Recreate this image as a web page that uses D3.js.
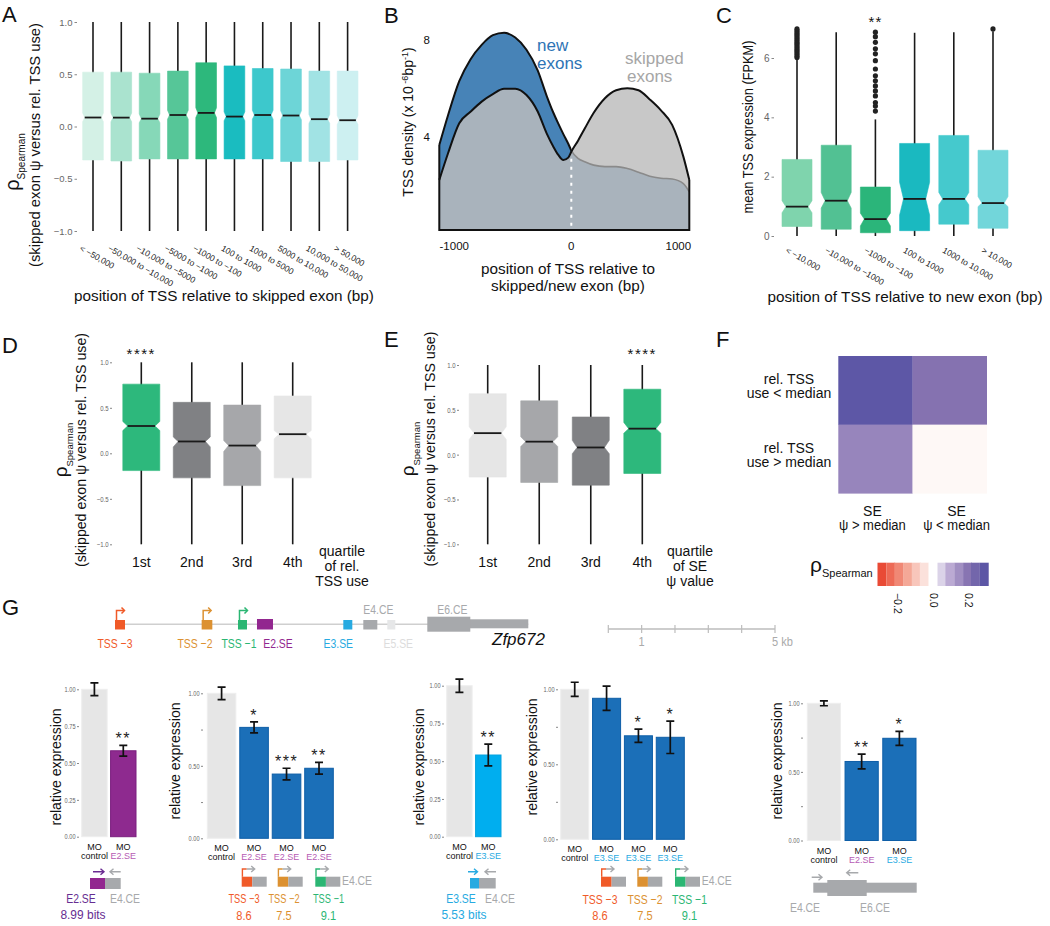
<!DOCTYPE html>
<html><head><meta charset="utf-8">
<script src="https://d3js.org/d3.v7.min.js"></script>
<style>html,body{margin:0;padding:0;background:#fff;} svg{display:block}</style>
</head><body>
<script>
const SANS="'Liberation Sans', Arial, Helvetica, sans-serif";

// ---------------- Panel A data ----------------
const aCategories=["< −50,000","−50,000 to −10,000","−10,000 to −5000","−5000 to −1000","−1000 to −100","100 to 1000","1000 to 5000","5000 to 10,000","10,000 to 50,000","> 50,000"];
const aWhiskerLow=[-1,-1,-1,-1,-1,-1,-1,-1,-1,-1];
const aQ1=[-0.32,-0.33,-0.31,-0.31,-0.31,-0.31,-0.31,-0.335,-0.335,-0.32];
const aMedian=[0.086,0.085,0.075,0.11,0.13,0.095,0.11,0.105,0.07,0.06];
const aQ3=[0.52,0.52,0.51,0.53,0.61,0.58,0.555,0.55,0.53,0.53];
const aWhiskerHigh=[1,1,1,1,1,1,1,1,1,1];
const aNotchLow=[0.045,0.045,0.035,0.07,0.085,0.055,0.07,0.065,0.03,0.02];
const aNotchHigh=[0.13,0.13,0.12,0.155,0.18,0.14,0.155,0.15,0.115,0.105];
const aColors=["#d4f1e6","#aae3cf","#86d8b8","#56c698","#2db87c","#1abcc0","#3dc8cc","#6dd5d7","#a1e3e4","#cdf0f1"];
const aTicks=[-1,-0.5,0,0.5,1];

// ---------------- Panel B data ----------------
const bPosition=[-1178,-1100,-1000,-900,-800,-700,-600,-500,-400,-300,-220,-160,-116,-71,-27,3,60,120,200,300,400,500,600,700,800,900,1000,1053];
const bNewExons=[3.67,4.9,6.3,7.2,7.8,8.2,8.3,8.1,7.6,6.75,5.7,5.0,4.55,4.12,3.72,3.42,3.12,2.98,2.84,2.78,2.78,2.7,2.55,2.38,2.3,2.27,2.08,1.74];
const bSkippedExons=[2.23,3.33,4.57,5.04,5.46,5.77,5.99,5.99,5.73,5.05,4.15,3.6,3.26,3.05,3.15,3.42,3.85,4.35,5.0,5.6,5.93,6.01,5.93,5.55,5.1,4.5,3.19,2.23];
const bXTicks=[-1000,0,1000];
const bYTicks=[4,8];

// ---------------- Panel C data ----------------
const cCategories=["< −10,000","−10,000 to −1000","−1000 to −100","100 to 1000","1000 to 10,000","> 10,000"];
const cWhiskerLow=[0,0,0,0,0,0];
const cQ1=[0.32,0.23,0.11,0.18,0.40,0.26];
const cMedian=[0.99,1.19,0.57,1.25,1.25,1.11];
const cQ3=[2.58,3.06,1.65,3.12,3.39,2.89];
const cWhiskerHigh=[6.0,6.87,3.93,6.85,6.87,6.9];
const cNotchLow=[0.78,0.94,0.34,0.71,1.05,0.99];
const cNotchHigh=[1.19,1.47,0.77,1.81,1.47,1.33];
const cOutliers1=[6.02,6.08,6.14,6.2,6.26,6.32,6.38,6.44,6.5,6.56,6.62,6.68,6.74,6.8,6.86,6.92,6.98];
const cOutliers3=[4.21,4.38,4.5,4.72,4.89,5.06,5.23,5.4,5.63,5.91,6.14,6.31,6.53,6.72,6.87];
const cOutliers6=[6.98];
const cColors=["#7fd4ad","#52c193","#2bb57a","#1ab9c0","#45c9cd","#72d6da"];
const cTicks=[0,2,4,6];

// ---------------- Panel D / E data ----------------
const quartiles=["1st","2nd","3rd","4th"];
const dQ1=[-0.19,-0.27,-0.355,-0.27];
const dMedian=[0.30,0.13,0.085,0.21];
const dQ3=[0.76,0.56,0.53,0.63];
const dNotchLow=[0.25,0.07,0.02,0.16];
const dNotchHigh=[0.35,0.18,0.14,0.25];
const dColors=["#2db87c","#808184","#a6a7aa","#e6e6e6"];
const eQ1=[-0.25,-0.31,-0.34,-0.21];
const eMedian=[0.24,0.145,0.08,0.29];
const eQ3=[0.68,0.60,0.42,0.73];
const eNotchLow=[0.17,0.09,0.01,0.24];
const eNotchHigh=[0.31,0.20,0.16,0.36];
const eColors=["#e6e6e6","#a6a7aa","#808184","#2db87c"];
const deWhiskerLow=[-1,-1,-1,-1];
const deWhiskerHigh=[1,1,1,1];

// ---------------- Panel F data ----------------
const fRows=[["rel. TSS","use < median"],["rel. TSS","use > median"]];
const fCols=[["SE","ψ > median"],["SE","ψ < median"]];
const fValues=[[0.287,0.20],[0.164,-0.012]];
const fLegendBins=[-0.29,-0.24,-0.195,-0.145,-0.095,-0.05,0,0.05,0.095,0.145,0.195,0.24,0.29];
const fLegendTicks=[-0.2,0,0.2];

// ---------------- Panel G data ----------------
const geneFeatures=["TSS −3","TSS −2","TSS −1","E2.SE","E3.SE","E4.CE","E5.SE","E6.CE"];
const geneStartKb=[0,2.6,3.69,4.26,6.85,7.45,8.17,9.37];
const geneEndKb=[0.3,2.92,3.96,4.74,7.12,7.87,8.41,10.66];
const geneUtrEndKb=12.4;
const geneLabelKb=[0,2.4,3.72,4.89,6.70,7.9,8.5,10.12];
const geneLabelAbove=[false,false,false,false,false,true,false,true];
const geneIsTss=[true,true,true,false,false,false,false,false];
const geneColors=["#f05a28","#dc9131","#2bb673","#92278f","#27aae1","#a7a9ac","#e6e7e8","#a7a9ac"];
const geneLabelColors=["#f05a28","#dc9131","#2bb673","#92278f","#27aae1","#a7a9ac","#dcdcdc","#a7a9ac"];
const scaleBarKb=[0,1,2,3,4,5];

const g1Labels=["control","E2.SE"];
const g1Values=[1.0,0.583];
const g1Errors=[0.043,0.037];
const g1Stars=["","**"];
const g2Labels=["control","E2.SE","E2.SE","E2.SE"];
const g2Values=[1.0,0.765,0.443,0.483];
const g2Errors=[0.043,0.038,0.04,0.041];
const g2Stars=["","*","***","**"];
const g3Labels=["control","E3.SE"];
const g3Values=[1.0,0.541];
const g3Errors=[0.044,0.072];
const g3Stars=["","**"];
const g4Labels=["control","E3.SE","E3.SE","E3.SE"];
const g4Values=[1.0,0.94,0.69,0.68];
const g4Errors=[0.047,0.081,0.044,0.108];
const g4Stars=["","","*","*"];
const g5Labels=["control","E2.SE","E3.SE"];
const g5Values=[1.0,0.576,0.745];
const g5Errors=[0.018,0.054,0.051];
const g5Stars=["","**","*"];
const gTicks=[0,0.25,0.5,0.75,1];

// =====================================================
const svg=d3.select("body").append("svg").attr("width",1050).attr("height",926);
svg.append("rect").attr("width",1050).attr("height",926).attr("fill","#fff");

function txt(g,x,y,s,o={}){
  const t=g.append("text").attr("x",x).attr("y",y).text(s)
    .attr("font-family",o.family||SANS).attr("font-size",o.size||14)
    .attr("fill",o.fill||"#111").attr("text-anchor",o.anchor||"start");
  if(o.rotate!=null) t.attr("transform",`rotate(${o.rotate},${x},${y})`);
  if(o.italic) t.attr("font-style","italic");
  if(o.ls!=null) t.attr("letter-spacing",o.ls);
  if(o.len) t.attr("textLength",o.len).attr("lengthAdjust","spacingAndGlyphs");
  if(o.narrow){
    const L=t.node().getComputedTextLength();
    if(L>0) t.attr("textLength",L*o.narrow).attr("lengthAdjust","spacingAndGlyphs");
  }
  return t;
}
function styleAxis(a,size,fill,narrow){
  a.select(".domain").remove();
  a.selectAll(".tick line").attr("stroke","#888");
  a.selectAll(".tick text").attr("font-size",size).attr("fill",fill).attr("font-family",SANS);
  if(narrow){
    a.selectAll(".tick text").each(function(){
      const L=this.getComputedTextLength();
      if(L>0){ this.setAttribute("textLength",L*narrow); this.setAttribute("lengthAdjust","spacingAndGlyphs"); }
    });
  }
}
function boxPlot(g,xs,y,w,s,ind){
  s.cats.forEach((c,i)=>{
    const cx=xs(c),x0=cx-w/2,x1=cx+w/2,dx=w*ind;
    g.append("line").attr("x1",cx).attr("x2",cx).attr("y1",y(s.lo[i])).attr("y2",y(s.hi[i]))
      .attr("stroke","#1a1a1a").attr("stroke-width",1.6);
    const p=d3.path();
    p.moveTo(x0,y(s.q3[i]));p.lineTo(x1,y(s.q3[i]));p.lineTo(x1,y(s.nhi[i]));
    p.lineTo(x1-dx,y(s.med[i]));p.lineTo(x1,y(s.nlo[i]));p.lineTo(x1,y(s.q1[i]));
    p.lineTo(x0,y(s.q1[i]));p.lineTo(x0,y(s.nlo[i]));p.lineTo(x0+dx,y(s.med[i]));
    p.lineTo(x0,y(s.nhi[i]));p.closePath();
    g.append("path").attr("d",p.toString()).attr("fill",s.colors[i]).attr("stroke",s.colors[i]).attr("stroke-width",0.6);
    g.append("line").attr("x1",x0+dx).attr("x2",x1-dx).attr("y1",y(s.med[i])).attr("y2",y(s.med[i]))
      .attr("stroke","#1a1a1a").attr("stroke-width",1.8);
  });
}
function rhoLabel(g,x,y,size,subSize,shift){
  const t=g.append("text").attr("x",x).attr("y",y).attr("text-anchor","middle")
    .attr("font-family",SANS).attr("fill","#111").attr("transform",`rotate(-90,${x},${y})`);
  t.append("tspan").attr("font-size",size).text("ρ");
  t.append("tspan").attr("font-size",subSize).attr("dy",shift).text("Spearman");
  return t;
}
function panelLetter(x,y,s){ txt(svg,x,y,s,{size:22,fill:"#111"}); }

// ================= Panel A =================
const gA=svg.append("g");
const aY=d3.scaleLinear([-1,1],[231,22]);
const aX=d3.scalePoint(aCategories,[93,347.6]);
boxPlot(gA,aX,aY,20.7,{cats:aCategories,lo:aWhiskerLow,q1:aQ1,med:aMedian,q3:aQ3,hi:aWhiskerHigh,nlo:aNotchLow,nhi:aNotchHigh,colors:aColors},0.1);
gA.append("g").attr("transform","translate(77,0)")
  .call(d3.axisLeft(aY).tickValues(aTicks).tickFormat(d3.format(".1f")).tickSize(2.5).tickPadding(2))
  .call(a=>styleAxis(a,9.5,"#666"));
aCategories.forEach(c=>txt(gA,aX(c)-14,250,c,{size:8.5,fill:"#222",rotate:30}));
txt(gA,224,301,"position of TSS relative to skipped exon (bp)",{size:15.3,anchor:"middle"});
txt(gA,40,145,"(skipped exon ψ versus rel. TSS use)",{size:14,anchor:"middle",rotate:-90,len:244});
rhoLabel(gA,19,162,20,10,6);
panelLetter(2,22,"A");

// ================= Panel B =================
const gB=svg.append("g");
const bx=d3.scaleLinear([-1178,1053],[439.3,689.3]);
const by=d3.scaleLinear([0,8],[234,40]);
const bBase=0.165;
const bData=bPosition.map((p,i)=>({p,n:bNewExons[i],s:bSkippedExons[i]}));
const areaN=d3.area().x(d=>bx(d.p)).y0(by(bBase)).y1(d=>by(d.n)).curve(d3.curveMonotoneX);
const areaS=d3.area().x(d=>bx(d.p)).y0(by(bBase)).y1(d=>by(d.s)).curve(d3.curveMonotoneX);
const lineN=d3.line().x(d=>bx(d.p)).y(d=>by(d.n)).curve(d3.curveMonotoneX);
const lineS=d3.line().x(d=>bx(d.p)).y(d=>by(d.s)).curve(d3.curveMonotoneX);
gB.append("path").attr("d",areaN(bData)).attr("fill","#4783b7");
gB.append("path").attr("d",areaS(bData)).attr("fill","#bdbdbd").attr("fill-opacity",0.83);
svg.append("clipPath").attr("id","clipLeft").append("rect").attr("x",430).attr("y",0).attr("width",bx(3)-430).attr("height",300);
svg.append("clipPath").attr("id","clipRight").append("rect").attr("x",bx(3)).attr("y",0).attr("width",300).attr("height",300);
gB.append("path").attr("d",lineN(bData)).attr("fill","none").attr("stroke","#8a8a8a").attr("stroke-width",1.6).attr("clip-path","url(#clipRight)");
gB.append("path").attr("d",lineN(bData)).attr("fill","none").attr("stroke","#111").attr("stroke-width",2).attr("clip-path","url(#clipLeft)");
gB.append("path").attr("d",lineS(bData)).attr("fill","none").attr("stroke","#111").attr("stroke-width",2);
const bL=bx(bPosition[0]),bR=bx(bPosition[bPosition.length-1]);
gB.append("path").attr("d",`M${bL},${by(bNewExons[0])}V${by(bBase)}H${bR}V${by(bSkippedExons[bSkippedExons.length-1])}`)
  .attr("fill","none").attr("stroke","#111").attr("stroke-width",2);
gB.append("line").attr("x1",bx(0)).attr("x2",bx(0)).attr("y1",by(3.1)).attr("y2",by(bBase)-2)
  .attr("stroke","#fff").attr("stroke-width",2).attr("stroke-dasharray","3,5");
bXTicks.forEach(t=>txt(gB,bx(t)-(t===0?0:5),250,t<0?"-"+Math.abs(t):String(t),{size:11.5,anchor:"middle"}));
bYTicks.forEach(t=>txt(gB,430,by(t)+4,String(t),{size:11.5,anchor:"end"}));
{
  const x=413,y=122;
  const t=gB.append("text").attr("x",x).attr("y",y).attr("text-anchor","middle").attr("font-family",SANS)
    .attr("font-size",14).attr("fill","#111").attr("transform",`rotate(-90,${x},${y})`);
  t.append("tspan").text("TSS density (x 10");
  t.append("tspan").attr("font-size",9).attr("dy",-5).text(" -6");
  t.append("tspan").attr("dy",5).text("bp");
  t.append("tspan").attr("font-size",9).attr("dy",-5).text("-1");
  t.append("tspan").attr("dy",5).text(")");
}
txt(gB,568,274,"position of TSS relative to",{size:15.3,anchor:"middle"});
txt(gB,568,291,"skipped/new exon (bp)",{size:15.3,anchor:"middle"});
txt(gB,537,51,"new",{size:17,fill:"#2e74b5"});
txt(gB,537,69,"exons",{size:17,fill:"#2e74b5"});
txt(gB,625,64,"skipped",{size:17,fill:"#a6a6a6"});
txt(gB,627,82,"exons",{size:17,fill:"#a6a6a6"});
panelLetter(384,23,"B");

// ================= Panel C =================
const gC=svg.append("g");
const cY=d3.scaleLinear([0,6],[236,58]);
const cX=d3.scalePoint(cCategories,[797,993]);
boxPlot(gC,cX,cY,30,{cats:cCategories,lo:cWhiskerLow,q1:cQ1,med:cMedian,q3:cQ3,hi:cWhiskerHigh,nlo:cNotchLow,nhi:cNotchHigh,colors:cColors},0.13);
[[0,cOutliers1],[2,cOutliers3],[5,cOutliers6]].forEach(([i,arr])=>{
  arr.forEach(v=>gC.append("circle").attr("cx",cX(cCategories[i])).attr("cy",cY(v)).attr("r",2.6).attr("fill","#222"));
});
gC.append("g").attr("transform","translate(774,0)")
  .call(d3.axisLeft(cY).tickValues(cTicks).tickFormat(d3.format("d")).tickSize(2.5).tickPadding(2))
  .call(a=>styleAxis(a,10,"#666"));
cCategories.forEach(c=>txt(gC,cX(c)-12,252,c,{size:8.5,fill:"#222",rotate:30}));
txt(gC,cX(cCategories[2]),27,"**",{size:15,anchor:"middle",ls:1});
txt(gC,905,302,"position of TSS relative to new exon (bp)",{size:15.3,anchor:"middle"});
txt(gC,753,127,"mean TSS expression (FPKM)",{size:15,anchor:"middle",rotate:-90,len:173});
panelLetter(716,23,"C");

// ================= Panel D =================
const gD=svg.append("g");
const dY=d3.scaleLinear([-1,1],[544.3,362.3]);
const dX=d3.scalePoint(quartiles,[141.3,292.7]);
boxPlot(gD,dX,dY,37,{cats:quartiles,lo:deWhiskerLow,q1:dQ1,med:dMedian,q3:dQ3,hi:deWhiskerHigh,nlo:dNotchLow,nhi:dNotchHigh,colors:dColors},0.13);
gD.append("g").attr("transform","translate(112,0)")
  .call(d3.axisLeft(dY).tickValues(aTicks).tickFormat(d3.format(".1f")).tickSize(2).tickPadding(1.5))
  .call(a=>styleAxis(a,7.5,"#666",0.8));
quartiles.forEach(q=>txt(gD,dX(q),567,q,{size:14,anchor:"middle"}));
txt(gD,dX("1st"),359,"****",{size:15,anchor:"middle",ls:1.5});
txt(gD,342,556,"quartile",{size:14,anchor:"middle"});
txt(gD,342,571,"of rel.",{size:14,anchor:"middle"});
txt(gD,342,586,"TSS use",{size:14,anchor:"middle"});
txt(gD,86,450,"(skipped exon ψ versus rel. TSS use)",{size:14,anchor:"middle",rotate:-90,len:234});
rhoLabel(gD,67,450,19,9.5,6);
panelLetter(2,353,"D");

// ================= Panel E =================
const gE=svg.append("g");
const eY=d3.scaleLinear([-1,1],[544.3,365]);
const eX=d3.scalePoint(quartiles,[487.7,642.3]);
boxPlot(gE,eX,eY,37,{cats:quartiles,lo:deWhiskerLow,q1:eQ1,med:eMedian,q3:eQ3,hi:deWhiskerHigh,nlo:eNotchLow,nhi:eNotchHigh,colors:eColors},0.13);
gE.append("g").attr("transform","translate(459,0)")
  .call(d3.axisLeft(eY).tickValues(aTicks).tickFormat(d3.format(".1f")).tickSize(2).tickPadding(1.5))
  .call(a=>styleAxis(a,7.5,"#666",0.8));
quartiles.forEach(q=>txt(gE,eX(q),567,q,{size:14,anchor:"middle"}));
txt(gE,eX("4th"),359,"****",{size:15,anchor:"middle",ls:1.5});
txt(gE,690,556,"quartile",{size:14,anchor:"middle"});
txt(gE,690,571,"of SE",{size:14,anchor:"middle"});
txt(gE,690,586,"ψ value",{size:14,anchor:"middle"});
txt(gE,435,449,"(skipped exon ψ versus rel. TSS use)",{size:14,anchor:"middle",rotate:-90,len:235});
rhoLabel(gE,414,449,19,9.5,6);
panelLetter(384,347,"E");

// ================= Panel F =================
const gF=svg.append("g");
const fColor=d3.scaleLinear([-0.3,-0.15,0,0.1,0.2,0.3],["#e8432e","#f4a593","#ffffff","#b7a6d1","#8572b0","#5753a4"]).clamp(true);
const fX=d3.scaleBand([0,1],[838.3,986.7]);
const fY=d3.scaleBand([0,1],[356,493.3]);
fValues.forEach((row,r)=>row.forEach((v,c)=>{
  gF.append("rect").attr("x",fX(c)).attr("y",fY(r)).attr("width",fX.bandwidth()+0.3).attr("height",fY.bandwidth()+0.3).attr("fill",fColor(v));
}));
fRows.forEach((lines,r)=>{
  const yc=fY(r)+fY.bandwidth()/2;
  txt(gF,789,yc-6,lines[0],{size:14,anchor:"middle"});
  txt(gF,789,yc+8,lines[1],{size:14,anchor:"middle"});
});
const fColShift=[-3,7];
fCols.forEach((lines,c)=>{
  const xc=fX(c)+fX.bandwidth()/2+fColShift[c];
  txt(gF,xc,516,lines[0],{size:14,anchor:"middle"});
  txt(gF,xc,530,lines[1],{size:14,anchor:"middle",narrow:0.93});
});
const lx=d3.scaleLinear([-0.2,0.2],[897.7,968.3]);
const binW=lx(0.049)-lx(0);
fLegendBins.forEach(v=>gF.append("rect").attr("x",lx(v)-binW/2).attr("y",562.7).attr("width",binW+0.2).attr("height",23.3).attr("fill",fColor(v)));
fLegendTicks.forEach(t=>txt(gF,lx(t)-3.5,593,d3.format(".1f")(t),{size:10.5,rotate:90}));
{
  const t=gF.append("text").attr("x",810).attr("y",572).attr("font-family",SANS).attr("fill","#111");
  t.append("tspan").attr("font-size",21).text("ρ");
  t.append("tspan").attr("font-size",11).attr("dy",5).text("Spearman");
}
panelLetter(716,347,"F");

// ================= Panel G: gene diagram =================
const gG=svg.append("g");
panelLetter(2,615,"G");
const gx=d3.scaleLinear([0,1],[115,148.33]);
gG.append("line").attr("x1",gx(0)).attr("x2",gx(geneUtrEndKb)).attr("y1",624.3).attr("y2",624.3).attr("stroke","#cfcfcf").attr("stroke-width",1.5);
geneFeatures.forEach((f,i)=>{
  const x0=gx(geneStartKb[i]),x1=gx(geneEndKb[i]);
  if(f==="E6.CE"){
    gG.append("rect").attr("x",x1-1).attr("y",619.3).attr("width",gx(geneUtrEndKb)-x1+1).attr("height",9).attr("fill",geneColors[i]);
    gG.append("rect").attr("x",x0).attr("y",616.7).attr("width",x1-x0).attr("height",15).attr("fill",geneColors[i]);
  } else {
    gG.append("rect").attr("x",x0).attr("y",f==="E2.SE"?619:620).attr("width",x1-x0).attr("height",f==="E2.SE"?10.5:9.5).attr("fill",geneColors[i]);
  }
  if(geneIsTss[i]){
    gG.append("path").attr("d",`M${x0+1.5},620V610.5H${x0+9}`).attr("fill","none").attr("stroke",geneColors[i]).attr("stroke-width",1.5);
    gG.append("path").attr("d",`M${x0+6.5},607.5L${x0+9.5},610.5L${x0+6.5},613.5`).attr("fill","none").attr("stroke",geneColors[i]).attr("stroke-width",1.5);
  }
  const ly=geneLabelAbove[i]?614:648;
  txt(gG,gx(geneLabelKb[i]),ly,f,{size:13,anchor:"middle",fill:geneLabelColors[i],narrow:0.8});
});
txt(gG,492,645,"Zfp672",{size:17,italic:true,fill:"#111"});
const sbx=d3.scaleLinear([0,5],[608.3,775]);
gG.append("line").attr("x1",sbx(0)).attr("x2",sbx(5)).attr("y1",629).attr("y2",629).attr("stroke","#bdbdbd").attr("stroke-width",1.5);
scaleBarKb.forEach(k=>gG.append("line").attr("x1",sbx(k)).attr("x2",sbx(k)).attr("y1",625).attr("y2",633).attr("stroke","#bdbdbd").attr("stroke-width",1.2));
txt(gG,sbx(1),646,"1",{size:13,anchor:"middle",fill:"#aaa",narrow:0.85});
txt(gG,sbx(5)-3,646,"5 kb",{size:13,fill:"#aaa",narrow:0.85});

// ================= Panel G: bar charts =================
const E2COL="#b65bb4", E3COL="#29abe2";
function barChart(o){
  const g=svg.append("g");
  const x=d3.scaleBand(d3.range(o.values.length),o.xr).paddingInner(o.pad||0.12);
  const y=d3.scaleLinear([0,1],o.yr);
  g.append("g").attr("transform",`translate(${o.ax},0)`)
    .call(d3.axisLeft(y).tickValues(gTicks).tickFormat(d=>(o.all||d===0||d===0.5||d===1)?d3.format(".2f")(d):"").tickSize(2).tickPadding(1.5))
    .call(a=>styleAxis(a,7,"#666",0.8));
  o.values.forEach((v,i)=>{
    const col=o.colors[i];
    g.append("rect").attr("x",x(i)).attr("y",y(v)).attr("width",x.bandwidth()).attr("height",y(0)-y(v))
      .attr("fill",col).attr("stroke",i===0?"#eeeeee":o.strokes[i]).attr("stroke-width",1);
    const cx=x(i)+x.bandwidth()/2, e=o.errors[i];
    const p=`M${cx},${y(v-e)}V${y(v+e)}M${cx-4},${y(v-e)}H${cx+4}M${cx-4},${y(v+e)}H${cx+4}`;
    g.append("path").attr("d",p).attr("stroke","#111").attr("stroke-width",1.7).attr("fill","none");
    if(o.stars[i]) txt(g,cx,y(v+e)-1,o.stars[i],{size:16,anchor:"middle",ls:1.5,fill:"#222"});
    txt(g,cx,y(0)+13,"MO",{size:9,anchor:"middle",fill:"#111"});
    const lab=o.labels[i];
    txt(g,cx,y(0)+22,lab,{size:9,anchor:"middle",fill:lab==="control"?"#111":(lab==="E2.SE"?E2COL:E3COL)});
  });
  txt(g,o.ylx,o.yly,"relative expression",{size:15,anchor:"middle",rotate:-90,len:117});
  return {g,x,y};
}
const BLUE="#1b6fb8", BLUE_S="#0e5ea7";
barChart({values:g1Values,errors:g1Errors,stars:g1Stars,labels:g1Labels,colors:["#e6e6e6","#8e2a8f"],strokes:["","#7b1f7e"],xr:[81.7,136],yr:[836.7,689.3],ax:79,all:true,ylx:61,yly:767});
barChart({values:g2Values,errors:g2Errors,stars:g2Stars,labels:g2Labels,colors:["#e6e6e6",BLUE,BLUE,BLUE],strokes:["",BLUE_S,BLUE_S,BLUE_S],xr:[207.3,333.3],yr:[838.3,693.3],ax:203,all:false,ylx:180,yly:761});
barChart({values:g3Values,errors:g3Errors,stars:g3Stars,labels:g3Labels,colors:["#e6e6e6","#00aeef"],strokes:["","#05a3df"],xr:[446.7,501],yr:[836.7,685.7],ax:444,all:true,ylx:424,yly:767});
barChart({values:g4Values,errors:g4Errors,stars:g4Stars,labels:g4Labels,colors:["#e6e6e6",BLUE,BLUE,BLUE],strokes:["",BLUE_S,BLUE_S,BLUE_S],xr:[560.7,684.3],yr:[839.3,689.3],ax:558,all:false,ylx:537,yly:757});
barChart({values:g5Values,errors:g5Errors,stars:g5Stars,labels:g5Labels,colors:["#e6e6e6",BLUE,BLUE],strokes:["",BLUE_S,BLUE_S],xr:[807.3,916],yr:[840.5,703.3],ax:803,all:false,ylx:782,yly:761});

// ---- primer diagrams (annotations)
const GREY="#a7a9ac";
function hArrow(g,x1,x2,y,col){
  const d=x2>x1?1:-1;
  g.append("path").attr("d",`M${x1},${y}H${x2}M${x2-3.5*d},${y-3}L${x2},${y}L${x2-3.5*d},${y+3}`)
    .attr("fill","none").attr("stroke",col).attr("stroke-width",1.4);
}
function tssPrimer(g,x,col){
  g.append("rect").attr("x",x).attr("y",876.7).attr("width",10.6).attr("height",10).attr("fill",col);
  g.append("rect").attr("x",x+10.6).attr("y",876.7).attr("width",14.4).attr("height",10).attr("fill",GREY);
  g.append("path").attr("d",`M${x+0.7},876.7V869H${x+5}`).attr("fill","none").attr("stroke",col).attr("stroke-width",1.4);
  hArrow(g,x+5,x+13,869,GREY);
}
const gP=svg.append("g");
// G1
hArrow(gP,93,104,871.7,"#6a2c91"); hArrow(gP,120.7,110,871.7,GREY);
gP.append("rect").attr("x",90).attr("y",878).attr("width",15).attr("height",11).attr("fill","#92278f");
gP.append("rect").attr("x",105).attr("y",878).attr("width",15.7).attr("height",11).attr("fill",GREY);
txt(gP,81,903,"E2.SE",{size:13,anchor:"middle",fill:"#662d91",narrow:0.8});
txt(gP,125,903,"E4.CE",{size:13,anchor:"middle",fill:GREY,narrow:0.8});
txt(gP,83,919,"8.99 bits",{size:13,anchor:"middle",fill:"#662d91",narrow:0.92});
// G2
const tssCols=["#f05a28","#dc9131","#2bb673"];
const tssNames=["TSS −3","TSS −2","TSS −1"];
const tssScores=["8.6","7.5","9.1"];
[241.7,277.7,315.3].forEach((x,i)=>tssPrimer(gP,x,tssCols[i]));
txt(gP,342,885,"E4.CE",{size:13,fill:GREY,narrow:0.8});
[244,284,328.5].forEach((x,i)=>{
  txt(gP,x,903.3,tssNames[i],{size:12.5,anchor:"middle",fill:tssCols[i],narrow:0.74});
  txt(gP,x,920,tssScores[i],{size:13,anchor:"middle",fill:tssCols[i],narrow:0.85});
});
// G3
hArrow(gP,468,477.5,871.7,"#27aae1"); hArrow(gP,496,485,871.7,GREY);
gP.append("rect").attr("x",470).attr("y",878).attr("width",9).attr("height",10.5).attr("fill","#27aae1");
gP.append("rect").attr("x",479).attr("y",878).attr("width",16.7).attr("height",10.5).attr("fill",GREY);
txt(gP,461,903.3,"E3.SE",{size:13,anchor:"middle",fill:"#27aae1",narrow:0.8});
txt(gP,500,903.3,"E4.CE",{size:13,anchor:"middle",fill:GREY,narrow:0.8});
txt(gP,464,919.3,"5.53 bits",{size:13,anchor:"middle",fill:"#27aae1",narrow:0.92});
// G4
[601,637.3,675].forEach((x,i)=>tssPrimer(gP,x,tssCols[i]));
txt(gP,701.7,885,"E4.CE",{size:13,fill:GREY,narrow:0.8});
[600,645,689.5].forEach((x,i)=>{
  txt(gP,x,904.3,tssNames[i],{size:13,anchor:"middle",fill:tssCols[i],narrow:0.8});
  txt(gP,x,920,tssScores[i],{size:13,anchor:"middle",fill:tssCols[i],narrow:0.85});
});
// G5
gP.append("rect").attr("x",813.3).attr("y",882.7).attr("width",103.4).attr("height",10).attr("fill",GREY);
gP.append("rect").attr("x",827.3).attr("y",880).attr("width",39.4).attr("height",16).attr("fill",GREY);
hArrow(gP,811.7,822,877.3,GREY); hArrow(gP,858.3,846.7,872.7,GREY);
txt(gP,805,911.7,"E4.CE",{size:13,anchor:"middle",fill:GREY,narrow:0.8});
txt(gP,875,911.7,"E6.CE",{size:13,anchor:"middle",fill:GREY,narrow:0.8});
</script>
</body></html>
